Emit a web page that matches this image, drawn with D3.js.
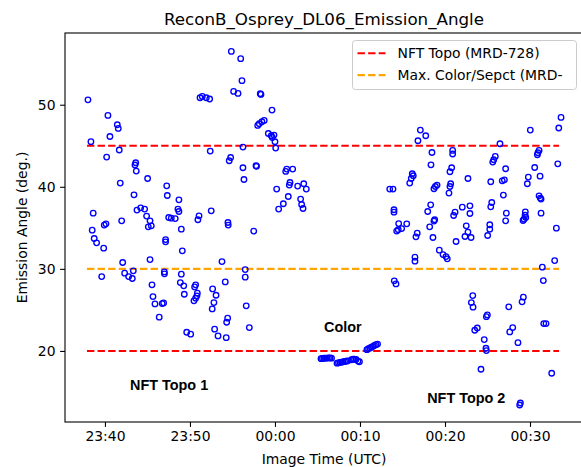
<!DOCTYPE html>
<html>
<head>
<meta charset="utf-8">
<script src="https://cdn.jsdelivr.net/npm/d3@7"></script>
<style>
  html, body { margin: 0; padding: 0; background: #fff; }
  svg { display: block; }
  text { font-family: "DejaVu Sans", sans-serif; fill: #000; }
</style>
</head>
<body>
<svg id="chart" width="581" height="467"></svg>
<script>
// Emission angle per image, grouped by observing segment (time UTC, angle in degrees)
const topo1Times = [
  "23:38:00","23:38:21","23:40:21","23:41:27","23:41:34","23:40:35","23:40:12","23:41:41","23:43:37","23:43:32",
  "23:43:41","23:45:01","23:41:48","23:43:25","23:47:16","23:47:20","23:38:37","23:38:30","23:38:44","23:39:01",
  "23:39:51","23:39:55","23:40:07","23:41:58","23:43:46","23:44:12","23:44:40","23:44:54","23:45:18","23:45:06",
  "23:45:27","23:47:30","23:47:08","23:47:08","23:45:18","23:42:05","23:39:37","23:42:19","23:42:47","23:43:13",
  "23:43:20","23:46:59","23:47:00","23:45:32","23:45:39","23:45:53","23:46:44","23:46:54","23:46:23",
  "23:54:52","23:55:58","23:56:07","23:55:08","23:55:39","23:51:11","23:51:27","23:51:55","23:52:19","23:58:16",
  "23:58:21","23:59:39","23:58:44","23:58:28","23:58:09","23:57:58","23:59:13","23:59:34","23:56:14","23:52:23",
  "23:54:47","23:54:37","23:56:14","23:57:46","23:57:50","23:56:21","23:48:42","23:48:35","23:48:42","23:47:48",
  "23:48:16","23:52:30","23:51:04","23:50:56","23:48:59","23:54:28","23:54:30","23:57:30","23:49:06","23:53:46",
  "23:56:30","23:56:30","23:48:59","23:48:52","23:49:16","23:49:20","23:50:40","23:50:33","23:50:52","23:50:49",
  "23:50:40","23:50:28","23:54:09","23:52:40","23:53:04","23:52:49","23:52:37","23:56:37","23:54:26","23:54:19",
  "23:56:59","23:49:37","23:50:05","23:52:54","23:53:18","23:54:16",
  "23:59:53","23:59:41","00:00:00","00:00:05","00:01:23","00:01:16","00:02:05","00:00:12","00:01:46","00:01:41",
  "00:02:40","00:03:23","00:03:41","00:01:34","00:00:59","00:00:26","00:03:01","00:03:08","00:03:18"
];
const topo1Angles = [
  50.6,45.5,48.7,47.56,47.11,46.13,43.62,44.48,42.93,42.65,
  41.91,41.01,40.45,39.02,40.12,38.94,36.79,34.72,33.70,33.17,
  32.52,35.33,35.49,35.85,37.16,37.44,37.28,36.43,35.85,35.12,
  35.24,36.26,33.57,33.29,31.13,30.77,29.06,29.48,29.06,28.82,
  29.76,29.63,29.39,28.05,26.62,25.73,25.77,25.85,24.11,
  56.5,55.61,52.93,51.62,51.38,50.85,51.01,50.85,50.70,51.34,
  51.26,49.35,48.09,47.93,47.68,47.48,46.50,46.22,44.84,44.35,
  43.57,43.17,42.32,42.56,42.5,40.89,38.41,37.28,36.99,36.18,
  36.13,37.07,36.46,35.98,34.84,35.65,35.33,34.60,32.20,30.89,
  29.91,28.99,29.35,28.33,27.93,26.91,28.05,27.80,27.04,26.71,
  26.43,26.10,28.41,27.56,26.79,25.89,25.12,25.49,23.99,23.50,
  22.84,22.28,22.04,22.65,21.83,21.62,
  46.30,46.01,45.49,44.72,42.16,41.87,42.16,39.72,40.52,40.21,
  40.09,40.37,39.72,38.82,37.93,37.28,38.50,37.84,37.35
];

const colorTimes = [
  "00:05:25","00:05:35","00:05:46","00:05:56","00:06:07","00:06:18","00:06:28","00:06:39",
  "00:07:18","00:07:28","00:07:39","00:07:49","00:08:00","00:08:11","00:08:21","00:08:32",
  "00:09:00","00:09:11","00:09:21","00:09:32","00:09:46","00:09:56",
  "00:10:49","00:11:00","00:11:11","00:11:21","00:11:32","00:11:42","00:11:53","00:12:04"
];
const colorAngles = [
  19.06,19.09,19.11,19.12,19.13,19.15,19.15,19.12,
  18.51,18.55,18.60,18.63,18.67,18.71,18.74,18.78,
  18.93,18.99,18.99,18.95,18.76,18.68,
  20.15,20.26,20.37,20.46,20.56,20.66,20.76,20.83
];

const topo2Times = [
  "00:17:06","00:16:49","00:17:44","00:18:28","00:20:54","00:20:54","00:18:21","00:20:47","00:20:35","00:16:09",
  "00:16:16","00:16:02","00:15:51","00:22:42","00:19:04","00:18:52","00:18:42","00:20:40","00:20:35","00:20:28",
  "00:13:30","00:13:53","00:18:19","00:17:58","00:14:00","00:14:00","00:22:02","00:22:56","00:22:56","00:21:11",
  "00:21:01","00:14:33","00:14:19","00:14:30","00:14:54","00:15:30","00:18:47","00:18:42","00:18:12","00:16:44",
  "00:16:35","00:18:35","00:22:30","00:22:42","00:22:21","00:23:04","00:21:18","00:19:20","00:19:46","00:20:07",
  "00:20:16","00:16:28","00:16:28","00:14:02","00:14:14","00:23:16","00:23:06","00:23:18","00:23:30","00:23:48",
  "00:24:14",
  "00:33:39","00:33:23","00:30:02","00:26:28","00:31:04","00:30:56","00:30:52","00:25:55","00:25:44","00:25:37",
  "00:33:16","00:30:33","00:27:08","00:31:11","00:29:48","00:29:41","00:25:23","00:26:59","00:26:44","00:26:52",
  "00:31:04","00:31:13","00:31:18","00:25:30","00:25:23","00:27:13","00:27:08","00:29:27","00:29:25","00:29:30",
  "00:29:18","00:29:11","00:31:18","00:25:16","00:25:16","00:25:01","00:33:06","00:32:54","00:31:27","00:31:34",
  "00:29:13","00:29:04","00:27:30","00:24:59","00:24:52","00:27:58","00:27:37","00:31:37","00:31:53","00:24:37",
  "00:28:35","00:24:49","00:24:52","00:32:33","00:28:52","00:28:47"
];
const topo2Angles = [
  46.91,45.61,46.22,44.18,44.43,43.99,42.68,42.32,41.83,41.59,
  41.34,41.01,40.45,41.01,40.21,40.04,39.76,40.37,40.04,39.23,
  39.72,39.72,37.80,36.99,37.20,36.91,37.52,37.68,36.74,36.91,
  36.50,35.52,34.60,34.76,34.91,35.49,35.98,35.82,35.12,34.35,
  33.90,33.82,35.24,34.48,33.94,33.82,33.33,32.28,31.74,31.50,
  31.22,31.43,30.94,28.54,28.17,26.74,25.89,25.33,22.52,22.80,
  17.77,
  48.45,47.16,46.91,45.24,44.43,44.15,43.90,43.70,43.29,43.01,
  42.80,42.35,42.20,41.30,41.18,40.37,40.61,40.85,40.73,38.99,
  38.90,38.62,38.50,38.09,37.56,36.79,35.85,36.95,36.55,36.26,
  36.06,35.89,36.79,35.37,34.84,34.06,34.96,31.01,30.21,28.57,
  26.55,25.98,25.37,24.39,24.18,22.84,22.32,23.33,23.33,21.38,
  21.01,20.33,20.04,17.28,13.66,13.41
];

// Requirement thresholds (deg.) and the time span they are drawn over
const nftTopoLimits = [45, 20];
const maxColorLimit = 30;
const limitStart = "23:37:53";
const limitEnd = "00:33:25";

const legendLabels = ["NFT Topo (MRD-728)", "Max. Color/Sepct (MRD-"];
const segmentLabels = ["NFT Topo 1", "Color", "NFT Topo 2"];
const segmentLabelTimes = ["23:47:33", "00:07:59", "00:22:30"];
const segmentLabelAngles = [15.25, 22.35, 13.7];

const xTickMinutes = 10;
const yTicks = [20, 30, 40, 50];
const xDomain = ["23:35:18", "00:36:14"];
const yDomain = [11.34, 58.74];

// Times after midnight belong to the following day
function toDate(s) {
  const [h, m, sec] = s.split(":").map(Number);
  return new Date(Date.UTC(2000, 0, h >= 12 ? 1 : 2, h, m, sec));
}

const svg = d3.select("#chart");
const plot = { left: 65, right: 583, top: 33, bottom: 422 };

const x = d3.scaleUtc().domain(xDomain.map(toDate)).range([plot.left, plot.right]);
const y = d3.scaleLinear().domain(yDomain).range([plot.bottom, plot.top]);

const points = []
  .concat(topo1Times.map((t, i) => ({ t: toDate(t), a: topo1Angles[i] })))
  .concat(colorTimes.map((t, i) => ({ t: toDate(t), a: colorAngles[i] })))
  .concat(topo2Times.map((t, i) => ({ t: toDate(t), a: topo2Angles[i] })));

// Threshold lines
const dash = "7.4,3.2";
const limits = nftTopoLimits.map(v => ({ v, color: "#ff0000" }))
  .concat([{ v: maxColorLimit, color: "#ffa500" }]);
svg.append("g").selectAll("line").data(limits).join("line")
  .attr("x1", x(toDate(limitStart))).attr("x2", x(toDate(limitEnd)))
  .attr("y1", d => y(d.v)).attr("y2", d => y(d.v))
  .attr("stroke", d => d.color).attr("stroke-width", 2.1)
  .attr("stroke-dasharray", dash);

// Scatter of emission angles
svg.append("g").selectAll("circle").data(points).join("circle")
  .attr("cx", d => x(d.t)).attr("cy", d => y(d.a))
  .attr("r", 2.75)
  .attr("fill", "none").attr("stroke", "#0000ff").attr("stroke-width", 1.35);

// Segment annotations
svg.append("g").selectAll("text").data(segmentLabels).join("text")
  .attr("x", (d, i) => x(toDate(segmentLabelTimes[i])))
  .attr("y", (d, i) => y(segmentLabelAngles[i]))
  .attr("text-anchor", "middle")
  .style("font-family", "'Liberation Sans', Arial, sans-serif")
  .style("font-weight", "bold").style("font-size", "14.4px")
  .text(d => d);

// Axes
const xAxis = d3.axisBottom(x).ticks(d3.utcMinute.every(xTickMinutes))
  .tickFormat(d3.utcFormat("%H:%M")).tickSize(4.9).tickPadding(4.6).tickSizeOuter(0);
const yAxis = d3.axisLeft(y).tickValues(yTicks).tickFormat(d3.format("d"))
  .tickSize(4.9).tickPadding(4.6).tickSizeOuter(0);

const gx = svg.append("g").attr("transform", `translate(0,${plot.bottom})`).call(xAxis);
const gy = svg.append("g").attr("transform", `translate(${plot.left},0)`).call(yAxis);
[gx, gy].forEach(g => {
  g.select(".domain").remove();
  g.selectAll(".tick line").attr("stroke", "#000").attr("stroke-width", 1.1);
  g.selectAll(".tick text").style("font-family", "'DejaVu Sans', sans-serif")
    .style("font-size", "13.9px").attr("fill", "#000");
});

// Frame
svg.append("rect")
  .attr("x", plot.left).attr("y", plot.top)
  .attr("width", plot.right - plot.left).attr("height", plot.bottom - plot.top)
  .attr("fill", "none").attr("stroke", "#000").attr("stroke-width", 1.1);

// Titles
svg.append("text").attr("x", (plot.left + plot.right) / 2).attr("y", 24.5)
  .attr("text-anchor", "middle").style("font-size", "16.7px")
  .text("ReconB_Osprey_DL06_Emission_Angle");
svg.append("text").attr("x", (plot.left + plot.right) / 2).attr("y", 464)
  .attr("text-anchor", "middle").style("font-size", "13.9px")
  .text("Image Time (UTC)");
svg.append("text")
  .attr("transform", `translate(27,${(plot.top + plot.bottom) / 2}) rotate(-90)`)
  .attr("text-anchor", "middle").style("font-size", "13.9px")
  .text("Emission Angle (deg.)");

// Legend
const legend = svg.append("g").attr("transform", "translate(352.5,40.5)");
legend.append("rect").attr("width", 224).attr("height", 49).attr("rx", 3)
  .attr("fill", "#fff").attr("fill-opacity", 0.8)
  .attr("stroke", "#cccccc").attr("stroke-width", 1);
const legendColors = ["#ff0000", "#ffa500"];
legendLabels.forEach((lab, i) => {
  const cy = 12.8 + i * 21.8;
  legend.append("line").attr("x1", 5).attr("x2", 33).attr("y1", cy).attr("y2", cy)
    .attr("stroke", legendColors[i]).attr("stroke-width", 2.1).attr("stroke-dasharray", dash);
  legend.append("text").attr("x", 45).attr("y", cy).attr("dy", "0.36em")
    .style("font-size", "13.9px").text(lab);
});
</script>
</body>
</html>
